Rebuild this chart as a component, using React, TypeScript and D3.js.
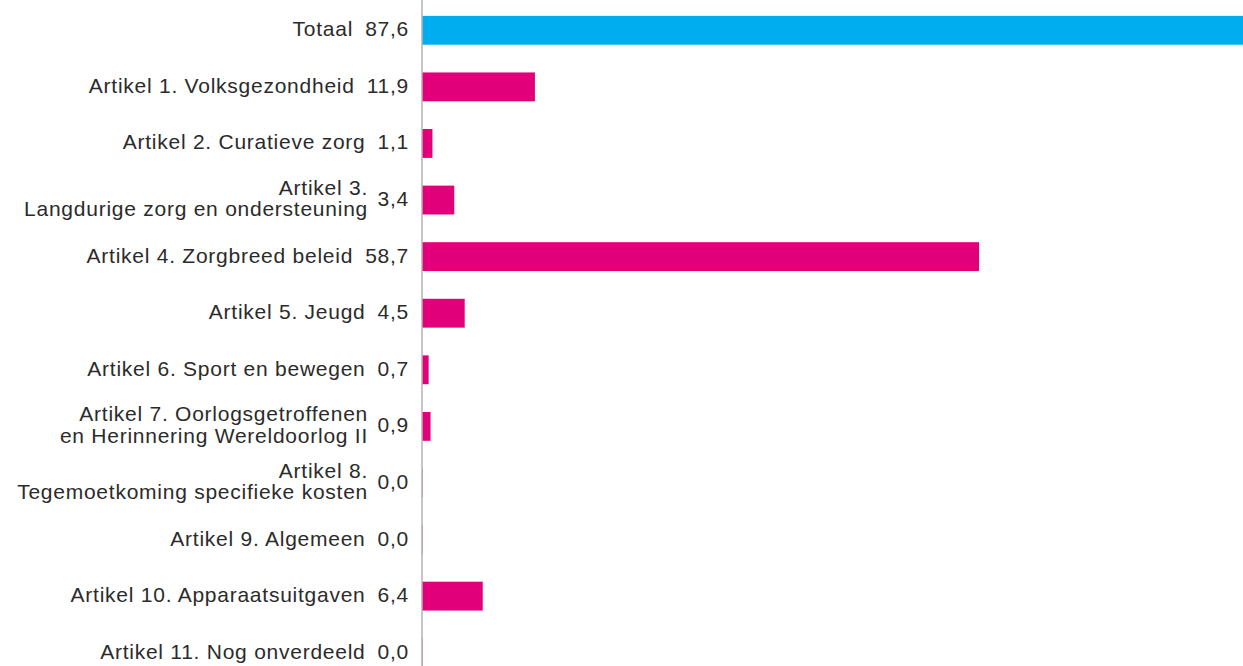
import React from "react";
import * as d3 from "d3";

const categories: string[][] = [
  ["Totaal"],
  ["Artikel 1. Volksgezondheid"],
  ["Artikel 2. Curatieve zorg"],
  ["Artikel 3.", "Langdurige zorg en ondersteuning"],
  ["Artikel 4. Zorgbreed beleid"],
  ["Artikel 5. Jeugd"],
  ["Artikel 6. Sport en bewegen"],
  ["Artikel 7. Oorlogsgetroffenen", "en Herinnering Wereldoorlog II"],
  ["Artikel 8.", "Tegemoetkoming specifieke kosten"],
  ["Artikel 9. Algemeen"],
  ["Artikel 10. Apparaatsuitgaven"],
  ["Artikel 11. Nog onverdeeld"],
];
const values: number[] = [87.6, 11.9, 1.1, 3.4, 58.7, 4.5, 0.7, 0.9, 0.0, 0.0, 6.4, 0.0];

const W = 1243;
const H = 666;
const axisX = 422;
const fmt = (v: number) => v.toFixed(1).replace(".", ",");

export default function App() {
  const idx = values.map((_, i) => String(i));
  const y = d3.scaleBand<string>().domain(idx).range([2, 681]).paddingInner(0.49).paddingOuter(0.245);
  const x = d3.scaleLinear().domain([0, 87.6]).range([axisX, axisX + 87.6 * 9.49]);
  const font = "'Liberation Sans', Arial, sans-serif";
  const fs = 21;
  const ls = 0.75;
  const textColor = "#2b2b2b";
  return (
    <svg width={W} height={H} style={{ position: "absolute", left: 0, top: 0, display: "block" }} fontFamily={font}>
      {values.map((v, i) => {
        const y0 = y(String(i))!;
        const bh = y.bandwidth();
        const cy = y0 + bh / 2;
        const color = i === 0 ? "#00aeef" : "#e2007a";
        const w = Math.max(x(v) - x(0), 1);
        const lines = categories[i];
        return (
          <g key={i}>
            <rect x={x(0)} y={y0} width={w} height={bh} fill={color} opacity={v === 0 ? 0.6 : 1} />
            {lines.length === 1 ? (
              <text x={409} y={cy + 6} textAnchor="end" fontSize={fs} letterSpacing={ls} fill={textColor}>
                <tspan>{lines[0]}</tspan>
                <tspan dx={12}>{fmt(v)}</tspan>
              </text>
            ) : (
              <g>
                <text x={368} y={cy - 5.3} textAnchor="end" fontSize={fs} letterSpacing={ls} fill={textColor}>
                  {lines[0]}
                </text>
                <text x={368} y={cy + 16.4} textAnchor="end" fontSize={fs} letterSpacing={ls} fill={textColor}>
                  {lines[1]}
                </text>
                <text x={409} y={cy + 6} textAnchor="end" fontSize={fs} letterSpacing={ls} fill={textColor}>
                  {fmt(v)}
                </text>
              </g>
            )}
          </g>
        );
      })}
      <line x1={axisX} x2={axisX} y1={0} y2={H} stroke="#b3b3b3" strokeWidth={1.5} />
    </svg>
  );
}
